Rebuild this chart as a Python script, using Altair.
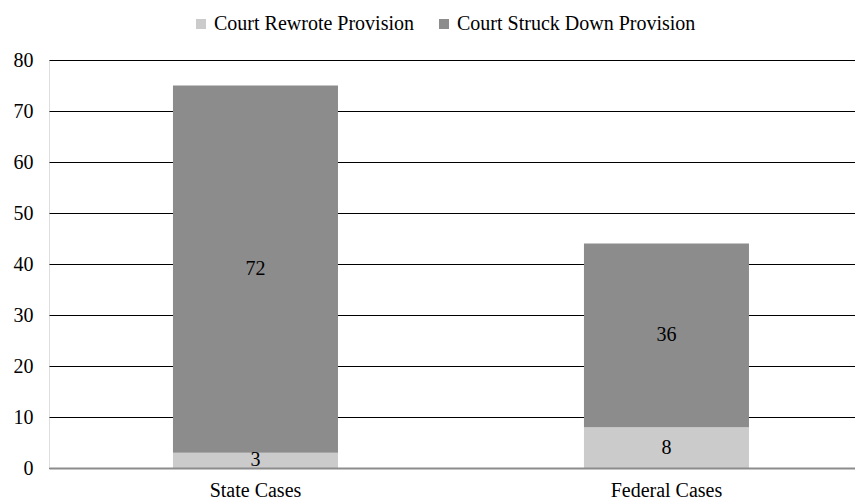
import altair as alt
import pandas as pd

categories = ["State Cases", "Federal Cases"]
series = ["Court Rewrote Provision", "Court Struck Down Provision"]
rewrote = [3, 8]
struck = [72, 36]
y_ticks = [0, 10, 20, 30, 40, 50, 60, 70, 80]

rows = []
for i, c in enumerate(categories):
    rows.append({"category": c, "series": series[0], "value": rewrote[i], "ord": 0})
    rows.append({"category": c, "series": series[1], "value": struck[i], "ord": 1})
df = pd.DataFrame(rows)

FONT = "Liberation Serif, 'Times New Roman', DejaVu Serif, serif"
FS = 20

x_enc = alt.X(
    "category:N",
    sort=categories,
    title=None,
    scale=alt.Scale(paddingInner=0.5985, paddingOuter=0.2798, align=0.539),
    axis=alt.Axis(
        labelAngle=0, ticks=False, domainColor="#8c8c8c", domainWidth=2,
        labelPadding=12, labelFont=FONT, labelFontSize=FS, labelColor="#000000",
        zindex=1,
    ),
)

base = alt.Chart(df)

bars = base.mark_bar().encode(
    x=x_enc,
    y=alt.Y(
        "value:Q",
        stack="zero",
        title=None,
        scale=alt.Scale(domain=[0, 80]),
        axis=alt.Axis(
            values=y_ticks, ticks=False, domain=False, grid=True,
            gridColor="#000000", gridWidth=1, labelPadding=16,
            labelFont=FONT, labelFontSize=FS, labelColor="#000000",
        ),
    ),
    color=alt.Color(
        "series:N",
        sort=series,
        scale=alt.Scale(domain=series, range=["#cbcbcb", "#8c8c8c"]),
        legend=alt.Legend(
            title=None, orient="none", direction="horizontal",
            legendX=142, legendY=-46, symbolType="square", symbolSize=100,
            symbolStrokeWidth=0, columnPadding=20, labelOffset=3,
            labelFont=FONT, labelFontSize=FS, labelColor="#000000",
            symbolOpacity=1, labelLimit=0,
        ),
    ),
    order=alt.Order("ord:Q", sort="ascending"),
)

labels = base.transform_stack(
    stack="value", groupby=["category"], as_=["y0", "y1"],
    sort=[alt.SortField("ord", order="ascending")],
).transform_calculate(
    mid="(datum.y0 + datum.y1) / 2"
).mark_text(font=FONT, fontSize=FS, color="#000000", baseline="middle").encode(
    x=alt.X("category:N", sort=categories),
    y=alt.Y("mid:Q"),
    text=alt.Text("value:Q"),
)

chart = alt.layer(bars, labels).properties(
    width=806, height=408,
    padding={"left": 5, "top": 6, "right": 0, "bottom": 0},
).configure_view(stroke=None).configure(background="#ffffff")

chart.save("out.html", embed_options={"renderer": "svg", "actions": False})
